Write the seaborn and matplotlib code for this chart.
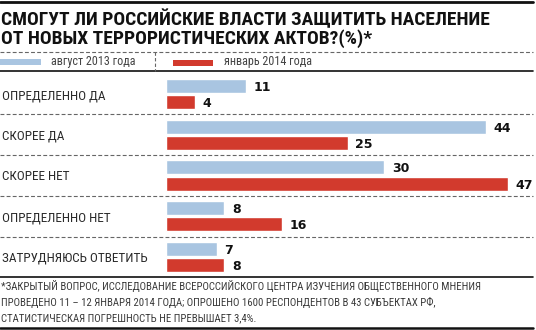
import matplotlib
matplotlib.use("Agg")
import matplotlib.pyplot as plt
from matplotlib import font_manager
from matplotlib.font_manager import FontProperties
from matplotlib.lines import Line2D
from matplotlib.patches import Rectangle
import matplotlib.transforms as mtransforms
import numpy as np
import pandas as pd
import seaborn as sns

# ---------------- data ----------------
categories = ["ОПРЕДЕЛЕННО ДА", "СКОРЕЕ ДА", "СКОРЕЕ НЕТ", "ОПРЕДЕЛЕННО НЕТ", "ЗАТРУДНЯЮСЬ ОТВЕТИТЬ"]
series_names = ["август 2013 года", "январь 2014 года"]
aug_2013 = [11, 44, 30, 8, 7]
jan_2014 = [4, 25, 47, 16, 8]
title_lines = ["СМОГУТ ЛИ РОССИЙСКИЕ ВЛАСТИ ЗАЩИТИТЬ НАСЕЛЕНИЕ",
               "ОТ НОВЫХ ТЕРРОРИСТИЧЕСКИХ АКТОВ?(%)*"]
footnote_lines = [
    "*ЗАКРЫТЫЙ ВОПРОС, ИССЛЕДОВАНИЕ ВСЕРОССИЙСКОГО ЦЕНТРА ИЗУЧЕНИЯ ОБЩЕСТВЕННОГО МНЕНИЯ",
    "ПРОВЕДЕНО 11 – 12 ЯНВАРЯ 2014 ГОДА; ОПРОШЕНО 1600 РЕСПОНДЕНТОВ В 43 СУБЪЕКТАХ РФ,",
    "СТАТИСТИЧЕСКАЯ ПОГРЕШНОСТЬ НЕ ПРЕВЫШАЕТ 3,4%.",
]

BLUE = "#a9c5e1"
RED = "#d23a2d"

df = pd.DataFrame({
    "category": categories * 2,
    "value": aug_2013 + jan_2014,
    "period": [series_names[0]] * len(categories) + [series_names[1]] * len(categories),
})

sns.set_style("white")


def _weight(f):
    if isinstance(f.weight, int):
        return f.weight
    s = str(f.weight).lower()
    table = {"black": 900, "heavy": 900, "extra bold": 800, "bold": 700, "semibold": 600,
             "medium": 500, "normal": 400, "regular": 400, "light": 300}
    return table.get(s, 400)


def find_font(target, min_w, max_w):
    prefs = ["Roboto Condensed", "Liberation Sans Narrow", "Open Sans Condensed",
             "DejaVu Sans Condensed", "DejaVu Sans"]
    cands = []
    for f in font_manager.fontManager.ttflist:
        narrow = ("condensed" in str(f.stretch).lower() or "Narrow" in f.name
                  or "Condensed" in f.name or "Condensed" in f.fname)
        if not narrow or f.style != "normal":
            continue
        w = _weight(f)
        if w < min_w or w > max_w:
            continue
        rank = prefs.index(f.name) if f.name in prefs else len(prefs)
        cands.append((rank, abs(w - target), f.fname))
    if cands:
        cands.sort()
        return FontProperties(fname=cands[0][2]), True
    return FontProperties(family="DejaVu Sans",
                          weight="bold" if target >= 600 else "normal"), False


FP_REG, NARROW_OK = find_font(400, 350, 550)
FP_BOLD, _ = find_font(900, 600, 1000)
shrink = 1.0 if NARROW_OK else 0.85

W, H = 536, 330
fig = plt.figure(figsize=(W / 100, H / 100), dpi=100)


def fx(px):
    return px / W


def fy(py):
    return 1 - py / H


def fp(base, size):
    p = base.copy()
    p.set_size(size)
    return p


# axes region in pixels
ax_l, ax_r, ax_t, ax_b = 166, 536, 71, 277
ax = fig.add_axes([fx(ax_l), fy(ax_b), fx(ax_r - ax_l), (ax_b - ax_t) / H])

sns.barplot(data=df, y="category", x="value", hue="period", orient="h",
            palette=[BLUE, RED], width=0.8, gap=0.14, ax=ax, legend=False,
            saturation=1, order=categories, hue_order=series_names)

ax.set_xlim(0, (ax_r - ax_l) / 7.27)
ax.set_ylim(4 + (277 - 257) / 40.75, -(94 - 71) / 40.75)
ax.axis("off")

# value labels
for p in ax.patches:
    w = p.get_width()
    if np.isnan(w):
        continue
    yc = p.get_y() + p.get_height() / 2
    ax.annotate(f"{int(round(w))}", xy=(w, yc), xytext=(5.5, 0), textcoords="offset points",
                ha="left", va="center_baseline", fontsize=9, fontweight="bold",
                family="DejaVu Sans", color="#111111")

# category labels
blend = mtransforms.blended_transform_factory(fig.transFigure, ax.transData)
for i, c in enumerate(categories):
    fig.text(fx(2), i, c, transform=blend, ha="left", va="center_baseline",
             fontproperties=fp(FP_REG, 9.5 * shrink), color="#2a2a2a")

# dashed separators between groups
for i in range(len(categories) - 1):
    fig.add_artist(Line2D([0, fx(533)], [i + 0.5, i + 0.5], transform=blend,
                          color="#666666", lw=0.8, ls=(0, (3.5, 2))))

# figure rules
fig.add_artist(Line2D([0, fx(533)], [fy(1.5), fy(1.5)], color="#111111", lw=2.0))
fig.add_artist(Line2D([0, fx(533)], [fy(52), fy(52)], color="#666666", lw=0.8, ls=(0, (3.5, 2))))
fig.add_artist(Line2D([0, fx(533)], [fy(71), fy(71)], color="#111111", lw=1.2))
fig.add_artist(Line2D([fx(155), fx(155)], [fy(52), fy(71)], color="#666666", lw=0.8, ls=(0, (3, 2))))
fig.add_artist(Line2D([0, fx(533)], [fy(277), fy(277)], color="#111111", lw=1.2))
fig.add_artist(Line2D([0, fx(533)], [fy(327.5), fy(327.5)], color="#111111", lw=1.8))

# title
for k, line in enumerate(title_lines):
    fig.text(fx(1), fy(25.5 + 18.3 * k), line, ha="left", va="baseline",
             fontproperties=fp(FP_BOLD, 14.0 * shrink), color="#111111")

# legend
fig.add_artist(Rectangle((fx(0), fy(64.5)), fx(41), 6 / H, color=BLUE, lw=0))
fig.text(fx(51), fy(65.5), series_names[0], ha="left", va="baseline",
         fontproperties=fp(FP_REG, 8.7), color="#444444")
fig.add_artist(Rectangle((fx(173), fy(66)), fx(40), 6 / H, color=RED, lw=0))
fig.text(fx(224), fy(65.5), series_names[1], ha="left", va="baseline",
         fontproperties=fp(FP_REG, 8.7), color="#444444")

# footnote
for k, line in enumerate(footnote_lines):
    fig.text(fx(1), fy(289.5 + 16 * k), line, ha="left", va="baseline",
             fontproperties=fp(FP_REG, 7.75 * shrink), color="#3a3a3a")

fig.savefig("out.png", dpi=100, facecolor="white")
